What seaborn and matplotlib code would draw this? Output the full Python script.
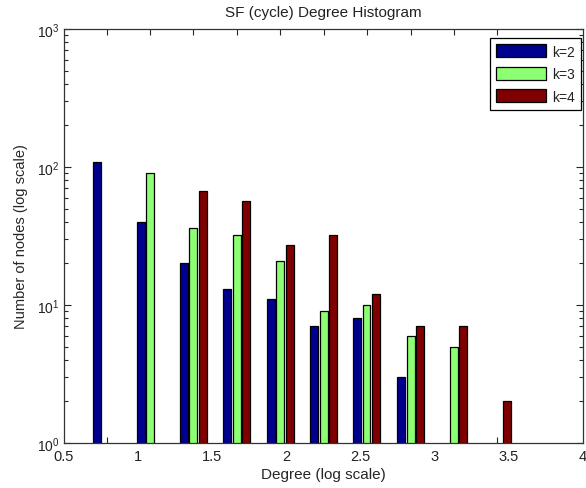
import numpy as np
import pandas as pd
import seaborn as sns
import matplotlib
matplotlib.use('Agg')
import matplotlib.pyplot as plt
from matplotlib.ticker import FixedLocator, NullFormatter, LogLocator

# bin centres (log degree) and counts per k
bins = [0.789, 1.082, 1.372, 1.664, 1.959, 2.251, 2.540, 2.837, 3.129, 3.420]
k2 = [108, 40, 20, 13, 11, 7, 8, 3, None, None]
k3 = [None, 90, 36, 32, 21, 9, 10, 6, 5, None]
k4 = [None, None, 67, 57, 27, 32, 12, 7, 7, 2]
series = ['k=2', 'k=3', 'k=4']
colors = ['#00008F', '#8CFF72', '#800000']
xlabels = ['0.5', '1', '1.5', '2', '2.5', '3', '3.5', '4']

rows = []
for name, vals in zip(series, [k2, k3, k4]):
    for b, v in zip(bins, vals):
        if v is not None:
            rows.append({'degree': b, 'count': v, 'k': name})
df = pd.DataFrame(rows)

sns.set_style('white')
plt.rcParams['font.family'] = ['Liberation Sans', 'DejaVu Sans']
plt.rcParams['mathtext.fontset'] = 'custom'
plt.rcParams['mathtext.rm'] = 'Liberation Sans'
plt.rcParams['text.color'] = '#222222'
plt.rcParams['xtick.labelcolor'] = '#222222'
plt.rcParams['ytick.labelcolor'] = '#222222'

fig = plt.figure(figsize=(5.86, 4.89), dpi=100)
ax = fig.add_axes([64 / 586, 45 / 489, 519 / 586, 414 / 489])

sns.barplot(data=df, x='degree', y='count', hue='k', hue_order=series,
            palette=dict(zip(series, colors)), native_scale=True,
            width=0.67, gap=0.17, dodge=True,
            edgecolor='black', linewidth=0.9, saturation=1, errorbar=None, ax=ax)

# log counts; bars start below the axis floor
ax.set_yscale('log')
ax.set_xlim(0.5, 4)
ax.set_ylim(1, 1000)

# labels at 0.5 steps (no marks), tick marks at the bin centres
ax.xaxis.set_major_locator(FixedLocator([0.5, 1, 1.5, 2, 2.5, 3, 3.5, 4]))
ax.set_xticklabels(xlabels)
ax.xaxis.set_minor_locator(FixedLocator(bins))
ax.xaxis.set_minor_formatter(NullFormatter())
ax.tick_params(axis='x', which='major', length=0, pad=4, labelsize=10.5)
ax.tick_params(axis='x', which='minor', direction='in', length=4, width=0.8,
               top=True, bottom=True)
ax.yaxis.set_major_locator(LogLocator(base=10))
ax.yaxis.set_minor_locator(LogLocator(base=10, subs=np.arange(2, 10)))
ax.yaxis.set_minor_formatter(NullFormatter())
ax.tick_params(axis='y', which='both', direction='in', left=True, right=True,
               width=0.8, labelsize=10)
ax.tick_params(axis='y', which='major', length=5)
ax.tick_params(axis='y', which='minor', length=3)

for s in ax.spines.values():
    s.set_color('#333333')
    s.set_linewidth(0.9)

ax.set_title('SF (cycle) Degree Histogram', fontsize=11, pad=9)
ax.set_xlabel('Degree (log scale)', fontsize=11, labelpad=3)
ax.set_ylabel('Number of nodes (log scale)', fontsize=10.5, labelpad=6)

leg = ax.legend(loc='upper right', bbox_to_anchor=(0.996, 0.978), borderaxespad=0,
                fancybox=False, edgecolor='black', framealpha=1, fontsize=10,
                handlelength=3.6, handleheight=1.05, labelspacing=0.6,
                handletextpad=0.4, borderpad=0.45)
leg.get_frame().set_linewidth(0.9)

fig.savefig('out.png', dpi=100)
